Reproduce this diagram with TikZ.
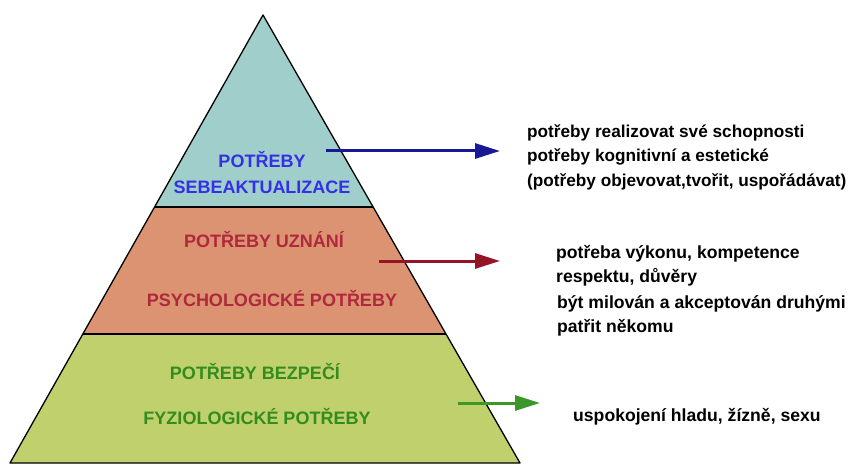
\documentclass[tikz,border=0pt]{standalone}
\usepackage{fontspec}
\setmainfont{Liberation Sans}
\usetikzlibrary{arrows.meta}
\definecolor{tealband}{RGB}{160,206,202}
\definecolor{salmonband}{RGB}{219,147,114}
\definecolor{greenband}{RGB}{192,208,108}
\definecolor{bluetxt}{RGB}{52,48,230}
\definecolor{redtxt}{RGB}{176,40,60}
\definecolor{greentxt}{RGB}{50,140,30}
\definecolor{bluearr}{RGB}{25,25,150}
\definecolor{redarr}{RGB}{150,20,40}
\definecolor{greenarr}{RGB}{60,150,40}
\begin{document}
\begin{tikzpicture}[x=1pt,y=-1pt,
  edge/.style={draw=black, line width=1.3pt, line join=round},
  lvl/.style={font=\bfseries\fontsize{18}{26}\selectfont, inner sep=0pt, align=center},
  desc/.style={font=\bfseries\fontsize{17.6}{24.5}\selectfont, anchor=west, inner sep=0pt, align=left, text=black},
  arr/.style={line width=3pt, -{Triangle[length=25pt,width=15pt]}}
]
\useasboundingbox (0,0) rectangle (859,465);
% pyramid geometry
\coordinate (apex) at (263,15);
\coordinate (tl) at (154.5,207);
\coordinate (tr) at (373.2,207);
\coordinate (ml) at (82.8,334);
\coordinate (mr) at (446.1,334);
\coordinate (bl) at (10,463);
\coordinate (br) at (520,463);
\fill[tealband] (apex) -- (tl) -- (tr) -- cycle;
\fill[salmonband] (tl) -- (ml) -- (mr) -- (tr) -- cycle;
\fill[greenband] (ml) -- (bl) -- (br) -- (mr) -- cycle;
\draw[edge] (apex) -- (bl) -- (br) -- cycle;
\draw[edge] (tl) -- (tr);
\draw[edge] (ml) -- (mr);
% level labels
\node[lvl, text=bluetxt] (l1) at (262,173) {POTŘEBY\\SEBEAKTUALIZACE};
\node[lvl, text=redtxt] (l2a) at (264,240) {POTŘEBY UZNÁNÍ};
\node[lvl, text=redtxt] (l2b) at (272,299) {PSYCHOLOGICKÉ POTŘEBY};
\node[lvl, text=greentxt] (l3a) at (255,372) {POTŘEBY BEZPEČÍ};
\node[lvl, text=greentxt] (l3b) at (257,417) {FYZIOLOGICKÉ POTŘEBY};
% descriptions
\node[desc, font=\bfseries\fontsize{17.2}{24.5}\selectfont] (d1) at (527,157) {potřeby realizovat své schopnosti\\potřeby kognitivní a estetické\\(potřeby objevovat,tvořit, uspořádávat)};
\node[desc] (d2a) at (556,266) {potřeba výkonu, kompetence\\respektu, důvěry};
\node[desc] (d2b) at (557,316) {být milován a akceptován druhými\\patřit někomu};
\node[desc] (d3) at (573,417) {uspokojení hladu, žízně, sexu};
% arrows
\coordinate (a1s) at (326,151);
\coordinate (a1e) at (500,151);
\coordinate (a2s) at (379,261);
\coordinate (a2e) at (500,261);
\coordinate (a3s) at (458,403);
\coordinate (a3e) at (540,403);
\draw[arr, bluearr] (a1s) -- (a1e);
\draw[arr, redarr] (a2s) -- (a2e);
\draw[arr, greenarr] (a3s) -- (a3e);
\end{tikzpicture}
\end{document}
